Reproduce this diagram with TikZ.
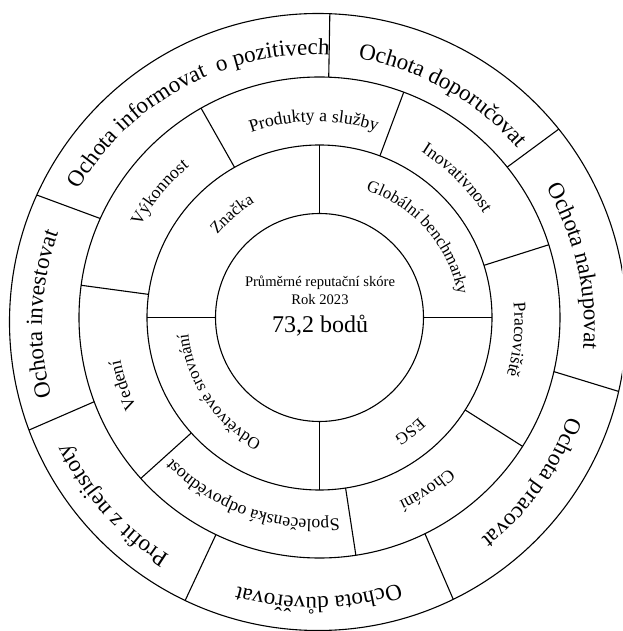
\documentclass[tikz,border=0pt]{standalone}
\usepackage{fontspec}
\setmainfont{Liberation Serif}
\usetikzlibrary{decorations.text}
% #1 centre shift, #2 angle, #3 baseline radius, #4 font size, #5 text
\newcommand\arclabel[5]{%
  \path[shift={#1}, decorate, decoration={text along path, text align=center,
      text={|\fontsize{#4}{#4}\selectfont|#5}}]
    ({#2+45}:#3) arc[start angle={#2+45}, end angle={#2-45}, radius=#3];
}
\begin{document}
\begin{tikzpicture}[x=1pt, y=1pt,
  ringline/.style={line width=1.1pt, draw=black},
  centertext/.style={anchor=base, inner sep=0pt, font=\fontsize{14.6}{16}\selectfont},
  bigtext/.style={anchor=base, inner sep=0pt, font=\fontsize{24}{26}\selectfont}]
\useasboundingbox (-319.5,317.5) rectangle (302.5,-313.5);
\clip (-319.5,317.5) rectangle (302.5,-313.5);
\coordinate (C) at (0,0);
\coordinate (C2) at (-1.5,-4.5);
% circles
\draw[ringline] (C) circle[radius=104];
\draw[ringline] (C) circle[radius=172.5];
\draw[ringline] (C) circle[radius=240.5];
\draw[ringline] (C2) circle[radius=308.5];
% ring 1 dividers
\foreach \a in {0,90,180,270} \draw[ringline] (\a:104) -- (\a:172.5);
% ring 2 dividers
\foreach \a in {119.5,172.3,222,278.7,327.6,17.6,69.5} \draw[ringline] (\a:172.5) -- (\a:240.5);
% ring 3 dividers
\foreach \a in {87.8,38.7,-13,-64,244.5,200.5,155.7} \draw[ringline] (\a:240.5) -- ([shift={(C2)}]\a:308.5);
% centre texts
\node[centertext] (t1) at (0.5,30.5) {Průměrné reputační skóre};
\node[centertext] (t2) at (0.5,12.5) {Rok 2023};
\node[bigtext] (t3) at (0.5,-15.5) {73,2 bodů};
% inner ring
\arclabel{(4.5,-2.5)}{131}{136.3}{16.8}{Značka}
\arclabel{(4.5,-2.5)}{41.4}{136.3}{16.8}{Globální benchmarky}
\arclabel{(4.5,-2.5)}{307.5}{136.3}{16.8}{ESG}
\arclabel{(4.5,-2.5)}{214.3}{136.3}{16.8}{Odvětvové srovnání}
% middle ring
\arclabel{(-4,-3)}{90.5}{199}{17.7}{Produkty a služby}
\arclabel{(-4,-3)}{140.5}{199}{17.7}{Výkonnost}
\arclabel{(-4,-3)}{198.7}{199}{17.7}{Vedení}
\arclabel{(-4,-3)}{250.4}{199}{17.7}{Společenská odpovědnost}
\arclabel{(-4,-3)}{303.4}{199}{17.7}{Chování}
\arclabel{(-4,-3)}{354.6}{199}{17.7}{Pracoviště}
\arclabel{(-4,-3)}{45.2}{199}{17.7}{Inovativnost}
% outer ring
\arclabel{(-6.5,-8.5)}{118.2}{271}{23}{Ochota informovat{\ } o pozitivech}
\arclabel{(-6.5,-8.5)}{60.65}{271}{23}{Ochota doporučovat}
\arclabel{(-6.5,-8.5)}{12.9}{271}{23}{Ochota nakupovat}
\arclabel{(-6.5,-8.5)}{-35.6}{271}{23}{Ochota pracovat}
\arclabel{(-6.5,-8.5)}{271.2}{271}{23}{Ochota důvěřovat}
\arclabel{(-6.5,-8.5)}{221.8}{271}{23}{Profit z nejistoty}
\arclabel{(-6.5,-8.5)}{177.55}{271}{23}{Ochota investovat}
\end{tikzpicture}
\end{document}
